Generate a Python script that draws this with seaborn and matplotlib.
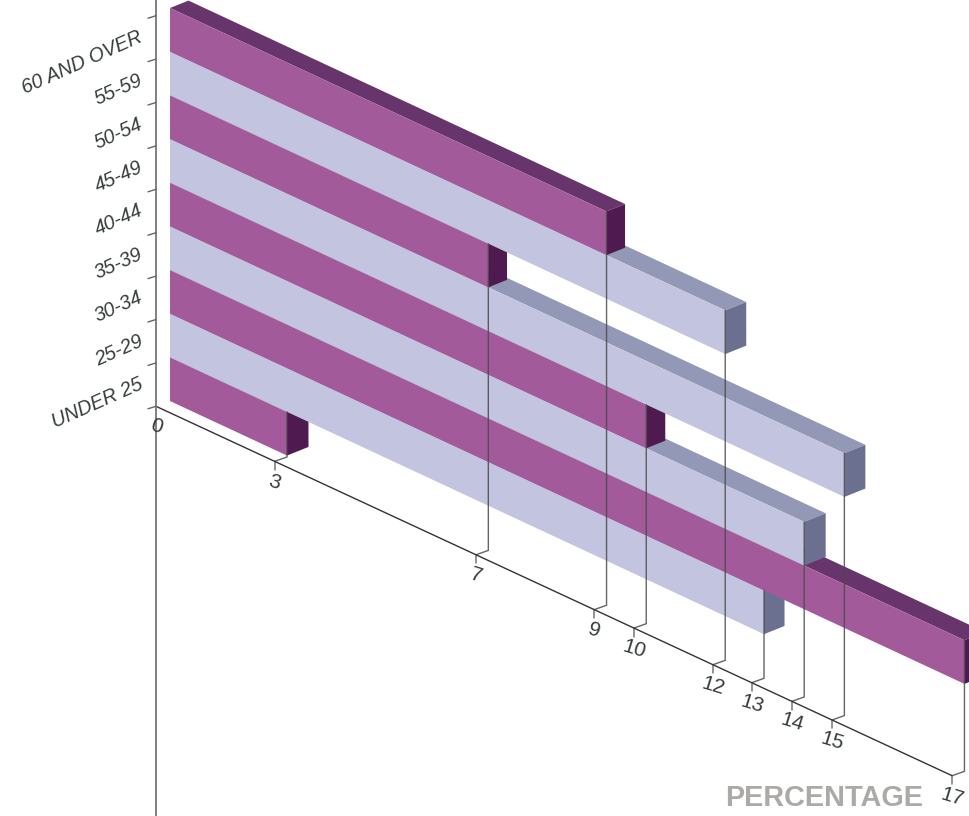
import matplotlib
matplotlib.use("Agg")
import matplotlib.pyplot as plt
from matplotlib.patches import Polygon
from matplotlib.transforms import Affine2D
import numpy as np
import pandas as pd
import seaborn as sns

age_groups = ["UNDER 25", "25-29", "30-34", "35-39", "40-44",
              "45-49", "50-54", "55-59", "60 AND OVER"]
percentages = [2.57, 12.90, 17.24, 13.77, 10.35, 14.64, 6.93, 12.06, 9.49]

PURPLE = ("#A25A9A", "#67356B", "#4F1A4F")   # front, top, end
LILAC = ("#C3C4E0", "#9398B6", "#6C7090")
TEXT_COLOR = "#363C3C"
LEADER_COLOR = "#4A4A4A"

sns.set_theme(style="white")
plt.rcParams["font.family"] = ["Liberation Sans", "DejaVu Sans"]

fig = plt.figure(figsize=(9.69, 8.16), dpi=100)
ax = fig.add_axes([0, 0, 1, 1])

frame = pd.DataFrame({"age": age_groups, "pct": percentages})
face_colors = [(PURPLE if i % 2 == 0 else LILAC)[0] for i in range(len(age_groups))]
sns.barplot(data=frame, x="pct", y="age", hue="age", order=age_groups,
            hue_order=age_groups, palette=face_colors, saturation=1,
            width=1, gap=0, legend=False, orient="h", ax=ax, linewidth=0)

# Oblique projection: value runs down-right, age band runs straight up.
PX_PER_UNIT = 46.18
SLOPE_BAR = 0.466
SLOPE_AXIS = 0.464
BAND = 43.67
ORIGIN = np.array([156.0, 406.3])
BAR_X0 = 168.3
BAR_Y0 = 378.4
DEPTH_SLOPE = -0.40
END_WIDTHS = [21.5, 20.5, 20.5, 21.5, 19.0, 21.0, 18.7, 21.0, 18.5]
BAR_START = (170.0 - BAR_X0) / PX_PER_UNIT

ax.set_xlim(0, 969)
ax.set_ylim(816, 0)
ax.axis("off")

oblique = Affine2D.from_values(PX_PER_UNIT, PX_PER_UNIT * SLOPE_BAR, 0, -BAND, BAR_X0, BAR_Y0)


def on_bar(value, band, depth=0.0):
    """Pixel position of a point on a bar's front plane, pushed back by depth pixels."""
    x, y = oblique.transform((value, band))
    return (x + depth, y + DEPTH_SLOPE * depth)


def on_axis(value):
    return (ORIGIN[0] + PX_PER_UNIT * value, ORIGIN[1] + PX_PER_UNIT * SLOPE_AXIS * value)


bars = [p for p in ax.patches]
for i, (rect, value, width) in enumerate(zip(bars, percentages, END_WIDTHS)):
    colors = PURPLE if i % 2 == 0 else LILAC
    z = 2 + i * 0.1
    lo, hi = i - 0.5, i + 0.5
    rect.set_x(BAR_START)
    rect.set_width(value - BAR_START)
    rect.set_y(lo)
    rect.set_height(1)
    rect.set_transform(oblique + ax.transData)
    rect.set_zorder(z + 0.02)
    ax.add_patch(Polygon(
        [on_bar(BAR_START, hi), on_bar(value, hi), on_bar(value, hi, width), on_bar(BAR_START, hi, width)],
        closed=True, facecolor=colors[1], edgecolor="none", zorder=z))
    ax.add_patch(Polygon(
        [on_bar(value, lo), on_bar(value, hi), on_bar(value, hi, width), on_bar(value, lo, width)],
        closed=True, facecolor=colors[2], edgecolor="none", zorder=z + 0.01))

    # Leader from the bar's front corner to its tick on the value axis.
    ax_x, ax_y = on_axis(value)
    fx, fy = on_bar(value, hi)
    ax.plot([fx, fx, ax_x], [fy, ax_y - 4.4, ax_y], color=LEADER_COLOR, lw=1.0,
            alpha=0.85, zorder=5, solid_joinstyle="miter")
    ax.plot([ax_x, ax_x], [ax_y, ax_y + 8.5], color="#777777", lw=1.1, zorder=5)
    ax.text(ax_x, ax_y + 21, f"{round(value)}", rotation=-17, ha="center", va="center",
            fontsize=15, color=TEXT_COLOR, rotation_mode="anchor", zorder=6)

# Value axis and the vertical age axis.
end = on_axis(max(percentages))
ax.plot([ORIGIN[0], end[0]], [ORIGIN[1], end[1]], color="#333333", lw=1.0, zorder=5)
ax.plot([ORIGIN[0], ORIGIN[0]], [0, 816], color="#808080", lw=1.4, zorder=5)
ax.text(ORIGIN[0], ORIGIN[1] + 20, "0", rotation=-17, ha="center", va="center",
        fontsize=15, color=TEXT_COLOR, rotation_mode="anchor", zorder=6)

TICK_STEP = 43.4
for i in range(len(age_groups) + 1):
    y = ORIGIN[1] - i * TICK_STEP
    ax.plot([ORIGIN[0] - 8, ORIGIN[0]], [y + 2.5, y], color="#666666", lw=1.0, zorder=5)

for i, name in enumerate(age_groups):
    ax.text(144, 388.5 - i * TICK_STEP, name, rotation=24, ha="right", va="baseline",
            rotation_mode="anchor", fontsize=14.2, style="italic", color=TEXT_COLOR, zorder=6)

ax.text(923.5, 798, "PERCENTAGE", ha="right", va="center", fontsize=20.8,
        fontweight="bold", color="#ABAAA7", zorder=6)

fig.savefig("out.png", dpi=100)
